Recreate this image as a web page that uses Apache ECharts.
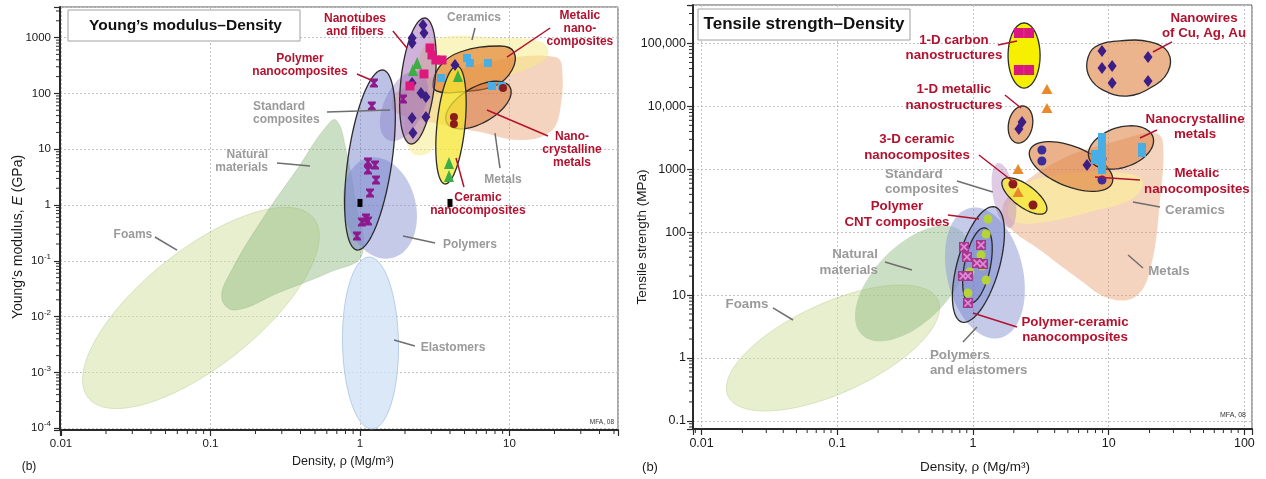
<!DOCTYPE html>
<html>
<head>
<meta charset="utf-8">
<script src="https://cdn.jsdelivr.net/npm/echarts@6/dist/echarts.min.js"></script>
<style>
  html, body { margin: 0; padding: 0; background: #fff; }
  #chart { width: 1266px; height: 479px; }
</style>
</head>
<body>
<div id="chart"></div>
<script>
// ---------------- Young's modulus (GPa) vs density (Mg/m3) ----------------
// Material-family outlines. Two-point entries are the tips of an ellipse's long axis,
// longer lists are the corners of a rounded outline (density, modulus).
const ymFoams      = [[0.0152, 3.5e-4], [0.49, 0.585]];
const ymNatural    = [[0.691, 33.4], [0.819, 7.87], [0.926, 1.23], [1.03, 0.127], [0.63, 0.063], [0.292, 0.0276],
                      [0.146, 0.0131], [0.119, 0.0216], [0.139, 0.0684], [0.232, 0.66], [0.397, 5.21], [0.557, 20.3]];
const ymElastomers = [[1.149, 0.117], [1.203, 9.7e-5]];
const ymPolymers   = [[1.131, 6.96], [1.637, 0.112]];
const ymMetals     = [[1.64, 76.2], [1.85, 115], [3.43, 214], [10.07, 431], [20.2, 449], [22.4, 323], [21.8, 50.4],
                      [18.7, 20.3], [11.75, 14.6], [6.35, 20.3], [2.94, 30.7], [1.71, 46.4]];
const ymCeramics   = [[2.23, 8.55], [2.0, 33.4], [2.33, 263], [3.08, 906], [8.64, 984], [16.5, 834], [18.1, 488],
                      [13.7, 285], [6.35, 141], [3.70, 50.4], [3.03, 9.68]];
const ymStdComp    = [[1.54, 14.6], [2.52, 241]];
const ymMetNano    = [[3.08, 136], [3.43, 310], [4.67, 552], [8.64, 707], [10.7, 552], [10.4, 263], [8.0, 136],
                      [4.67, 106], [3.43, 106]];
const ymNanoCryst  = [[3.82, 29.5], [10.07, 130]];
const ymCerNano    = [[4.46, 310], [3.70, 2.38]];
const ymNanotubes  = [[2.72, 2245], [2.19, 12.4]];
const ymPolyNano   = [[1.425, 263], [0.955, 0.156]];

// Measured materials (density, modulus)
const ymPolyNanoPts = [[1.24, 153], [1.20, 59.4], [1.131, 5.9], [1.26, 5.21], [1.131, 4.24], [1.28, 2.81], [1.167, 1.64],
                       [1.097, 0.585], [1.03, 0.496], [1.131, 0.517], [0.955, 0.278], [1.94, 79]];
const ymBlackPts    = [[1.0, 1.09], [4.0, 1.09]];
const ymDiamondPts  = [[2.64, 1682], [2.68, 1208], [2.23, 984], [2.23, 800], [2.23, 153], [2.56, 102], [2.76, 86],
                       [2.23, 36.3], [2.76, 37.8], [2.26, 19.5], [4.32, 323]];
const ymSquarePts   = [[2.94, 651], [3.03, 488], [3.22, 397], [3.54, 397], [2.68, 223], [2.16, 136]];
const ymTrianglePts = [[2.41, 351], [2.26, 263], [4.52, 205], [3.94, 5.66], [3.94, 3.31]];
const ymBluePts     = [[5.2, 431], [5.44, 351], [7.18, 351], [3.48, 189], [7.64, 136], [8.91, 136]];
const ymRedPts      = [[9.05, 125], [4.25, 37.8], [4.25, 28.3]];

// Callouts: text anchor and leader line ends (density, modulus)
const ymNotes = [
  { text: 'Nanotubes\nand fibers', at: [0.926, 1648], from: [1.66, 1313], to: [2.06, 651], kind: 'nano' },
  { text: 'Polymer\nnanocomposites', at: [0.397, 316], from: [0.955, 223], to: [1.185, 174], kind: 'nano' },
  { text: 'Standard\ncomposites', at: [0.1924, 43.6], align: 'left', from: [0.602, 46.4], to: [1.59, 50.4], kind: 'family' },
  { text: 'Natural\nmaterials', at: [0.2424, 6.02], align: 'right', from: [0.2786, 5.66], to: [0.463, 5.0], kind: 'family' },
  { text: 'Foams', at: [0.0303, 0.29], from: [0.0425, 0.267], to: [0.0597, 0.156], kind: 'family' },
  { text: 'Polymers', at: [5.44, 0.192], from: [1.94, 0.278], to: [3.18, 0.208], kind: 'family' },
  { text: 'Elastomers', at: [4.19, 2.74e-3], from: [1.69, 3.81e-3], to: [2.33, 2.97e-3], kind: 'family' },
  { text: 'Ceramics', at: [5.79, 2245], from: [5.88, 1486], to: [5.61, 906], kind: 'family' },
  { text: 'Metalic\nnano-\ncomposites', at: [29.6, 1456], from: [18.7, 1486], to: [9.62, 449], kind: 'nano' },
  { text: 'Nano-\ncrystalline\nmetals', at: [26.2, 9.68], from: [18.1, 17.2], to: [7.07, 50.4], kind: 'nano' },
  { text: 'Metals', at: [9.05, 2.81], from: [8.64, 4.6], to: [8.0, 19.5], kind: 'family' },
  { text: 'Ceramic\nnanocomposites', at: [6.15, 1.04], from: [4.96, 2.10], to: [4.39, 6.96], kind: 'nano' }
];

// ---------------- Tensile strength (MPa) vs density (Mg/m3) ----------------
const tsFoams      = [[0.01566, 0.249], [0.552, 8.35]];
const tsNatural    = [[0.152, 2.32], [0.83, 101]];
const tsPolymers   = [[0.95, 243], [1.58, 2.08]];
const tsMetals     = [[1.64, 210], [1.87, 390], [4.38, 1406], [12.1, 2924], [21.9, 3777], [25.1, 2716], [23.9, 325],
                      [20.2, 25.1], [15.6, 9.33], [9.88, 9.0], [6.15, 17.4], [3.12, 52.1], [1.87, 117]];
const tsCeramics   = [[1.81, 225], [2.22, 504], [3.39, 755], [8.63, 906], [16.4, 782], [17.9, 562], [14.4, 325],
                      [7.28, 210], [3.39, 145], [2.04, 145]];
const tsStdComp    = [[1.53, 1259], [1.87, 117]];
const tsCarbon     = [[2.38, 2.12e5], [2.38, 1.96e4]];
const tsMetallic1D = [[2.38, 1.01e4], [2.11, 2620]];
const tsNanowires  = [[6.92, 5.08e4], [7.93, 8.8e4], [12.1, 1.1e5], [20.2, 1.06e5], [27.3, 7.33e4], [27.3, 3.52e4],
                      [20.2, 1.96e4], [13.6, 1.46e4], [9.08, 1.82e4], [7.28, 2.83e4]];
const tsMetNano    = [[2.63, 2028], [10.6, 605]];
const tsNanoCryst  = [[7.16, 1514], [21.2, 3265]];
const tsCer3D      = [[1.66, 676], [3.45, 210]];
const tsPolyCNT    = [[1.45, 252], [0.83, 3.73]];
const tsPolyCer    = [[1.226, 117], [0.95, 7.49]];

const tsCarbonPts   = [[2.18, 1.47e5], [2.59, 1.47e5], [2.18, 3.79e4], [2.59, 3.79e4]];
const tsTrianglePts = [[3.51, 1.89e4], [3.51, 9440], [2.15, 1011], [2.15, 436]];
const tsDiamondPts  = [[2.30, 5650], [2.18, 4370], [8.93, 7.6e4], [8.93, 4.08e4], [10.6, 4.38e4], [10.6, 2.36e4],
                       [19.5, 6.1e4], [19.5, 2.54e4], [6.92, 1170]];
const tsCirclePts   = [[3.22, 2028], [3.22, 1355], [8.93, 1459], [8.93, 676]];
const tsBluePts     = [[8.93, 2924], [8.93, 1815], [7.93, 1570], [8.93, 1088], [17.6, 2028]];
const tsRedPts      = [[1.97, 584], [2.77, 271]];
const tsLimePts     = [[1.29, 162], [1.25, 93.6], [1.146, 43.4], [1.165, 29], [0.95, 23.3], [1.25, 17.4], [0.918, 10.8]];
const tsCrossPts    = [[0.859, 58.2], [1.146, 62.6], [0.903, 40.3], [1.07, 32.4], [1.185, 31.2], [0.844, 20.1],
                       [0.918, 20.1], [0.918, 7.49]];

const tsNotes = [
  { text: '1-D carbon\nnanostructures', at: [0.724, 8.48e4], from: [1.53, 9.46e4], to: [2.11, 1.1e5], kind: 'nano' },
  { text: '1-D metallic\nnanostructures', at: [0.724, 1.385e4], from: [1.72, 1.52e4], to: [2.26, 9440], kind: 'nano' },
  { text: '3-D ceramic\nnanocomposites', at: [0.387, 2222], from: [1.107, 1687], to: [2.04, 605], kind: 'nano' },
  { text: 'Standard\ncomposites', at: [0.2247, 628], align: 'left', from: [0.762, 651], to: [1.40, 436], kind: 'family' },
  { text: 'Polymer\nCNT composites', at: [0.2754, 191], from: [0.654, 188], to: [1.107, 162], kind: 'nano' },
  { text: 'Natural\nmaterials', at: [0.1995, 33], align: 'right', from: [0.2247, 33.6], to: [0.355, 25.1], kind: 'family' },
  { text: 'Foams', at: [0.0216, 7.22], from: [0.0336, 6.24], to: [0.0472, 4.02], kind: 'family' },
  { text: 'Polymers\nand elastomers', at: [0.482, 0.833], align: 'left', from: [0.844, 1.80], to: [1.07, 3.11], kind: 'family' },
  { text: 'Polymer-ceramic\nnanocomposites', at: [5.65, 2.79], from: [1.0, 5.19], to: [2.11, 3.11], kind: 'nano' },
  { text: 'Metals', at: [27.8, 24.2], from: [13.9, 43.4], to: [17.9, 27.0], kind: 'family' },
  { text: 'Ceramics', at: [43.3, 225], from: [15.1, 302], to: [23.9, 252], kind: 'family' },
  { text: 'Metalic\nnanocomposites', at: [44.7, 640], from: [17.0, 676], to: [7.93, 755], kind: 'nano' },
  { text: 'Nanocrystalline\nmetals', at: [43.3, 4705], from: [22.7, 4217], to: [17.0, 3146], kind: 'nano' },
  { text: 'Nanowires\nof Cu, Ag, Au', at: [50.4, 1.9e5], from: [29.3, 1.06e5], to: [21.2, 7.33e4], kind: 'nano' }
];

// Axis extents
const ymDensityRange  = [0.00985, 53.2];
const ymModulusRange  = [9.29e-5, 3535];
const tsDensityRange  = [0.00865, 113.8];
const tsStrengthRange = [0.0743, 409500];

// ---------------- styling ----------------
const FONT = "'Liberation Sans', Arial, Helvetica, sans-serif";
const RED = '#b3122f';
const GREY = '#9a9a9a';
const OUT = '#2b2b2b';
const noteLook = {
  nano:   { color: RED,  line: RED },
  family: { color: GREY, line: '#6e6e6e' }
};
const FOAM = 'rgba(214,228,170,0.58)';
const NATURAL = 'rgba(140,185,125,0.45)';
const POLY = 'rgba(150,158,215,0.55)';
const METAL = 'rgba(230,160,110,0.45)';

const ymRegions = [
  { pts: ymFoams, hw: 58, fill: FOAM, stroke: 'rgba(170,190,120,0.35)', lw: 1 },
  { pts: ymNatural, fill: NATURAL, stroke: 'rgba(110,160,100,0.25)', lw: 1 },
  { pts: ymElastomers, hw: 28, fill: 'rgba(205,224,245,0.75)', stroke: 'rgba(150,180,220,0.6)', lw: 1 },
  { pts: ymPolymers, hw: 36, fill: POLY },
  { pts: ymMetals, fill: METAL },
  { pts: ymCeramics, fill: 'rgba(245,235,130,0.5)' },
  { pts: ymStdComp, hw: 20, fill: 'rgba(165,135,200,0.45)' },
  { pts: ymMetNano, fill: 'rgba(225,125,45,0.65)', stroke: OUT, lw: 1.3 },
  { pts: ymNanoCryst, hw: 18, fill: 'rgba(215,115,55,0.55)', stroke: OUT, lw: 1.3 },
  { pts: ymCerNano, hw: 14, fill: 'rgba(245,230,50,0.75)', stroke: OUT, lw: 1.3 },
  { pts: ymNanotubes, hw: 17, fill: 'rgba(160,100,180,0.5)', stroke: OUT, lw: 1.3 },
  { pts: ymPolyNano, hw: 22, fill: 'rgba(105,120,200,0.45)', stroke: OUT, lw: 1.3 }
];
const tsRegions = [
  { pts: tsFoams, hw: 45, fill: FOAM, stroke: 'rgba(170,190,120,0.35)', lw: 1 },
  { pts: tsNatural, hw: 38, fill: NATURAL },
  { pts: tsPolymers, hw: 38, fill: POLY },
  { pts: tsMetals, fill: METAL },
  { pts: tsCeramics, fill: 'rgba(250,232,160,0.8)' },
  { pts: tsStdComp, hw: 11, fill: 'rgba(185,140,195,0.45)' },
  { pts: tsCarbon, hw: 16, fill: '#f6ef00', stroke: OUT, lw: 1.3 },
  { pts: tsMetallic1D, hw: 12, fill: 'rgba(225,140,80,0.7)', stroke: OUT, lw: 1.3 },
  { pts: tsNanowires, fill: 'rgba(225,140,80,0.65)', stroke: OUT, lw: 1.3 },
  { pts: tsMetNano, hw: 20, fill: 'rgba(222,125,60,0.6)', stroke: OUT, lw: 1.3 },
  { pts: tsNanoCryst, hw: 20, fill: 'rgba(222,125,60,0.55)', stroke: OUT, lw: 1.3 },
  { pts: tsCer3D, hw: 11, fill: 'rgba(245,232,60,0.85)', stroke: OUT, lw: 1.3 },
  { pts: tsPolyCNT, hw: 21, fill: 'rgba(105,120,200,0.4)', stroke: OUT, lw: 1.3 },
  { pts: tsPolyCer, hw: 13, fill: 'rgba(105,120,200,0.3)', stroke: OUT, lw: 1.3 }
];

// ---------------- helpers ----------------
// ellipse outline in screen space from the two long-axis tips and a half width
function ellipsePoints(api, ends, hw) {
  const p = api.coord(ends[0]), q = api.coord(ends[1]);
  const cx = (p[0] + q[0]) / 2, cy = (p[1] + q[1]) / 2;
  const dx = q[0] - p[0], dy = q[1] - p[1];
  const half = Math.hypot(dx, dy) / 2;
  const ux = dx / (2 * half), uy = dy / (2 * half);
  const out = [];
  for (let i = 0; i < 72; i++) {
    const t = i / 72 * Math.PI * 2;
    const a = Math.cos(t) * half, b = Math.sin(t) * hw;
    out.push([cx + ux * a - uy * b, cy + uy * a + ux * b]);
  }
  return out;
}

function regionSeries(idx, list) {
  return {
    type: 'custom', xAxisIndex: idx, yAxisIndex: idx, clip: true, silent: true, z: 2,
    data: list.map(r => r.pts[0]),
    renderItem: (params, api) => {
      const r = list[params.dataIndex];
      const points = r.hw ? ellipsePoints(api, r.pts, r.hw) : r.pts.map(p => api.coord(p));
      return {
        type: 'polygon',
        shape: { points, smooth: r.hw ? 0 : 0.4 },
        style: { fill: r.fill, stroke: r.stroke || 'none', lineWidth: r.lw || 0 }
      };
    }
  };
}

function noteSeries(idx, notes, fontSize, lineHeight) {
  return {
    type: 'custom', xAxisIndex: idx, yAxisIndex: idx, clip: false, silent: true, z: 20,
    data: notes.map(n => n.at),
    renderItem: (params, api) => {
      const n = notes[params.dataIndex];
      const look = noteLook[n.kind];
      const t = api.coord(n.at), a = api.coord(n.from), b = api.coord(n.to);
      return {
        type: 'group',
        children: [
          { type: 'line', shape: { x1: a[0], y1: a[1], x2: b[0], y2: b[1] },
            style: { stroke: look.line, lineWidth: 1.5 } },
          { type: 'text', x: t[0], y: t[1],
            style: { text: n.text, fill: look.color, fontSize, fontWeight: 'bold', fontFamily: FONT,
                     align: n.align || 'center', verticalAlign: 'middle', lineHeight } }
        ]
      };
    }
  };
}

function markerSeries(idx, data, symbol, size, color, z) {
  return {
    type: 'scatter', xAxisIndex: idx, yAxisIndex: idx, data, symbol, symbolSize: size, silent: true,
    itemStyle: { color, opacity: 1 }, z: z || 8
  };
}

// log-spaced minor tick marks (2..9 within each decade)
function minorValues(range) {
  const out = [];
  const lo = Math.floor(Math.log10(range[0])), hi = Math.ceil(Math.log10(range[1]));
  for (let e = lo; e <= hi; e++) {
    for (let k = 2; k <= 9; k++) {
      const v = k * Math.pow(10, e);
      if (v > range[0] && v < range[1]) out.push(v);
    }
  }
  return out;
}
function minorTickSeries(idx, dir, range, other) {
  return {
    type: 'custom', xAxisIndex: idx, yAxisIndex: idx, clip: false, silent: true, z: 10,
    data: minorValues(range).map(v => dir === 'x' ? [v, other] : [other, v]),
    renderItem: (params, api) => {
      const p = api.coord([api.value(0), api.value(1)]);
      const shape = dir === 'x'
        ? { x1: p[0], y1: p[1] + 1, x2: p[0], y2: p[1] + 4 }
        : { x1: p[0] - 1, y1: p[1], x2: p[0] - 4, y2: p[1] };
      return { type: 'line', shape, style: { stroke: '#2a2a2a', lineWidth: 1 } };
    }
  };
}

function decadeExp(v) {
  const e = Math.log10(v), r = Math.round(e);
  return Math.abs(e - r) < 1e-6 ? r : null;
}
const fmtDensity = v => {
  const r = decadeExp(v);
  if (r === null) return '';
  return r < 0 ? Math.pow(10, r).toFixed(-r) : String(Math.pow(10, r));
};
const fmtModulus = v => {
  const r = decadeExp(v);
  if (r === null) return '';
  return r >= 0 ? String(Math.pow(10, r)) : '10{s|' + r + '}';
};
const fmtStrength = v => {
  const r = decadeExp(v);
  if (r === null) return '';
  if (r >= 4) return Math.pow(10, r).toLocaleString('en-US');
  return r < 0 ? Math.pow(10, r).toFixed(-r) : String(Math.pow(10, r));
};

function logAxis(gridIndex, range, fmt, fontSize, margin) {
  return {
    type: 'log', logBase: 10, gridIndex, min: range[0], max: range[1],
    axisLine: { show: true, onZero: false, lineStyle: { color: '#2a2a2a', width: 2 } },
    axisTick: { show: true, length: 6, lineStyle: { color: '#2a2a2a', width: 1.2 } },
    axisLabel: {
      fontSize, color: '#1a1a1a', fontFamily: FONT, formatter: fmt, margin,
      rich: { s: { fontSize: 8, fontFamily: FONT, color: '#1a1a1a', padding: [0, 0, 8, 0] } }
    },
    splitLine: { show: true, lineStyle: { color: '#c2c2c2', width: 1, type: [2, 2] } },
    minorTick: { show: false }, minorSplitLine: { show: false }
  };
}

function text(x, y, str, size, extra) {
  return Object.assign({
    type: 'text', x, y, z: 100,
    style: Object.assign({ text: str, fontSize: size, fontFamily: FONT, fill: '#1a1a1a',
                           align: 'center', verticalAlign: 'middle' }, extra || {})
  });
}

const chart = echarts.init(document.getElementById('chart'), null, { renderer: 'canvas' });
chart.setOption({
  animation: false,
  backgroundColor: '#ffffff',
  grid: [
    { left: 60, top: 7, width: 558, height: 423, show: true, borderColor: '#555', borderWidth: 1, backgroundColor: 'transparent' },
    { left: 693, top: 5, width: 559, height: 424, show: true, borderColor: '#555', borderWidth: 1, backgroundColor: 'transparent' }
  ],
  xAxis: [
    logAxis(0, ymDensityRange, fmtDensity, 11.5, 8),
    logAxis(1, tsDensityRange, fmtDensity, 12.5, 8)
  ],
  yAxis: [
    logAxis(0, ymModulusRange, fmtModulus, 11.5, 9),
    logAxis(1, tsStrengthRange, fmtStrength, 12.5, 7)
  ],
  series: [
    regionSeries(0, ymRegions),
    regionSeries(1, tsRegions),
    minorTickSeries(0, 'x', ymDensityRange, ymModulusRange[0]),
    minorTickSeries(0, 'y', ymModulusRange, ymDensityRange[0]),
    minorTickSeries(1, 'x', tsDensityRange, tsStrengthRange[0]),
    minorTickSeries(1, 'y', tsStrengthRange, tsDensityRange[0]),
    // Young's modulus markers
    markerSeries(0, ymPolyNanoPts, 'path://M0,0L10,0L10,2L6.5,5L10,8L10,10L0,10L0,8L3.5,5L0,2Z', [8, 9], '#8c1a8c'),
    markerSeries(0, ymBlackPts, 'rect', [5, 8], '#000000'),
    markerSeries(0, ymDiamondPts, 'diamond', [9, 12], '#3b1d86'),
    markerSeries(0, ymSquarePts, 'rect', [9, 9], '#e0187c'),
    markerSeries(0, ymTrianglePts, 'triangle', [10, 12], '#3dae45'),
    markerSeries(0, ymBluePts, 'rect', [8, 8], '#4aaee6'),
    markerSeries(0, ymRedPts, 'circle', 8, '#8a1c1c'),
    // tensile strength markers
    markerSeries(1, tsCarbonPts, 'rect', [10, 10], '#d9177e'),
    markerSeries(1, tsTrianglePts, 'triangle', [11, 10], '#e8892a'),
    markerSeries(1, tsDiamondPts, 'diamond', [9, 12], '#3b1d86'),
    markerSeries(1, tsCirclePts, 'circle', 9, '#3a2c9a'),
    markerSeries(1, tsBluePts, 'rect', [8, 14], '#4aaee6'),
    markerSeries(1, tsRedPts, 'circle', 9, '#8a1c1c'),
    markerSeries(1, tsLimePts, 'circle', 9, '#b6d535'),
    markerSeries(1, tsCrossPts, 'rect', [10, 10], '#a3388f'),
    markerSeries(1, tsCrossPts, 'path://M0,1.5L1.5,0L5,3.5L8.5,0L10,1.5L6.5,5L10,8.5L8.5,10L5,6.5L1.5,10L0,8.5L3.5,5Z', [8, 8], '#e08ad6', 9),
    noteSeries(0, ymNotes, 12, 13),
    noteSeries(1, tsNotes, 13.3, 15.5)
  ],
  graphic: [
    { type: 'rect', z: 100, shape: { x: 68, y: 10, width: 232, height: 31 },
      style: { fill: '#ffffff', stroke: '#a0a0a0', lineWidth: 1 } },
    text(185.5, 25.5, 'Young\u2019s modulus\u2013Density', 15.5, { fontWeight: 'bold', fill: '#111' }),
    { type: 'rect', z: 100, shape: { x: 698, y: 9, width: 212, height: 31 },
      style: { fill: '#ffffff', stroke: '#a0a0a0', lineWidth: 1 } },
    text(804, 24.5, 'Tensile strength\u2013Density', 17, { fontWeight: 'bold', fill: '#111' }),
    Object.assign(text(18, 237, 'Young\u2019s modulus, {i|E} (GPa)', 14,
      { rich: { i: { fontStyle: 'italic', fontSize: 14, fontFamily: FONT, fill: '#1a1a1a' } } }), { rotation: Math.PI / 2 }),
    Object.assign(text(642, 237, 'Tensile strength (MPa)', 13.5), { rotation: Math.PI / 2 }),
    text(343, 462, 'Density, \u03c1 (Mg/m\u00b3)', 12.5),
    text(975, 467, 'Density, \u03c1 (Mg/m\u00b3)', 13.5),
    text(29, 467, '(b)', 12),
    text(650, 467, '(b)', 13),
    text(614, 422, 'MFA, 08', 6.5, { align: 'right', fill: '#333' }),
    text(1246, 415, 'MFA, 08', 7, { align: 'right', fill: '#333' })
  ]
});
</script>
</body>
</html>
